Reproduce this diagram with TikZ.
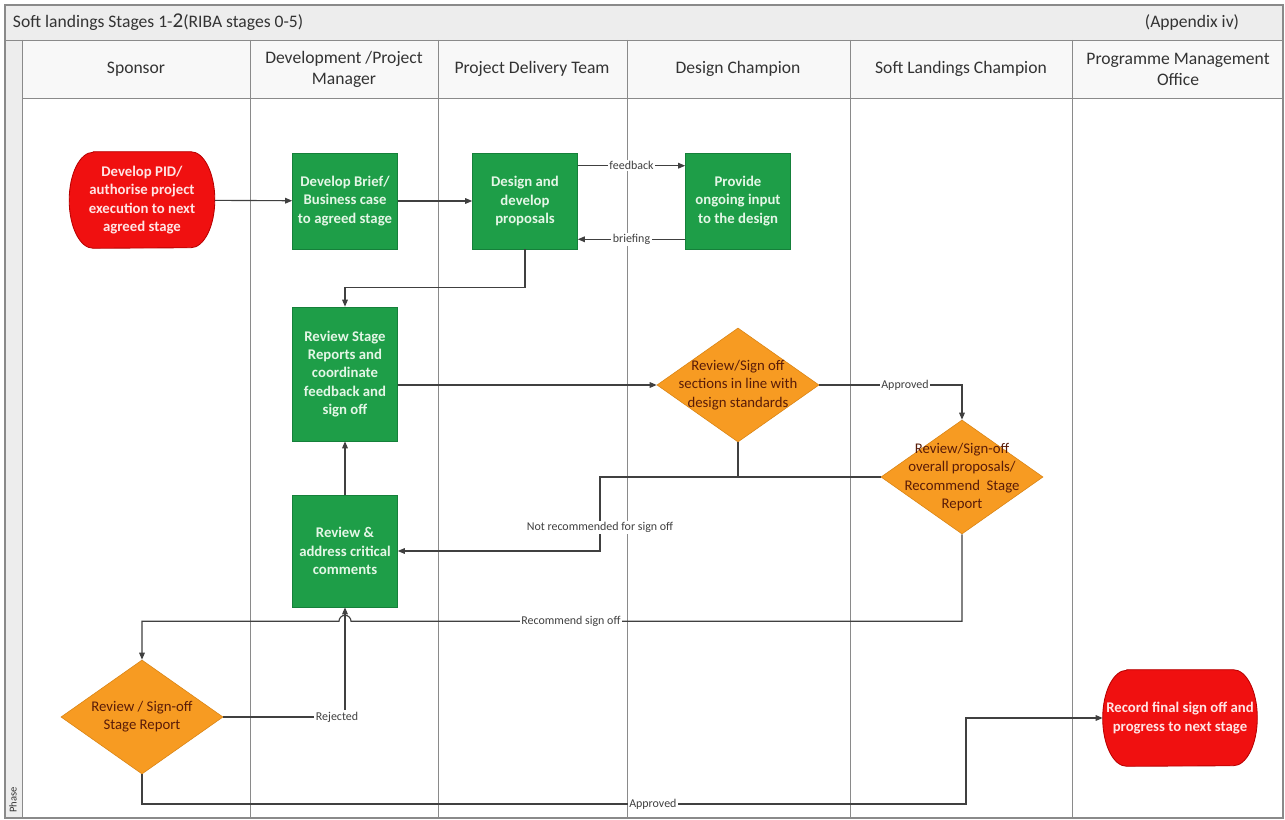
\documentclass[tikz,border=0pt]{standalone}
\usepackage{fontspec}
\setmainfont{Carlito}
\usepackage{tikz}
\usetikzlibrary{shapes,arrows.meta,positioning,calc,backgrounds}
\definecolor{taskgreen}{HTML}{1E9E48}
\definecolor{taskline}{HTML}{15803A}
\definecolor{tasktext}{HTML}{E4F6E6}
\definecolor{termred}{HTML}{F01010}
\definecolor{termline}{HTML}{B80000}
\definecolor{termtext}{HTML}{FFE4E4}
\definecolor{decorange}{HTML}{F79B22}
\definecolor{decline}{HTML}{D98312}
\definecolor{decbrown}{HTML}{5A1C08}
\definecolor{flowgray}{HTML}{404040}
\definecolor{lanegray}{HTML}{8A8A8A}
\definecolor{bandgray}{HTML}{EDEDED}
\definecolor{headgray}{HTML}{F8F8F8}
\definecolor{darkgray}{HTML}{333333}

\begin{document}
\begin{tikzpicture}[
    x=0.025cm, y=-0.025cm,
    laneline/.style={draw=lanegray, line width=0.6pt},
    lanehead/.style={align=center, font=\fontsize{12.5}{15}\selectfont, text=darkgray},
    task/.style={draw=taskline, fill=taskgreen, minimum width=2.625cm, minimum height=2.4cm,
                 align=center, inner sep=1pt, font=\fontsize{10.5}{13}\selectfont\bfseries, text=tasktext},
    terminal/.style={rectangle, minimum height=2.4cm, align=center, inner sep=0pt,
                     font=\fontsize{10.5}{13}\selectfont\bfseries, text=termtext,
                     append after command={\pgfextra{\begin{pgfonlayer}{background}
                       \path[draw=termline, fill=termred, line width=0.6pt]
                         ([xshift=0.6cm]\tikzlastnode.north west) -- ([xshift=-0.6cm]\tikzlastnode.north east)
                         arc[x radius=0.6cm, y radius=1.2cm, start angle=90, end angle=-90]
                         -- ([xshift=0.6cm]\tikzlastnode.south west)
                         arc[x radius=0.6cm, y radius=1.2cm, start angle=270, end angle=90] -- cycle;
                     \end{pgfonlayer}}}},
    decision/.style={diamond, draw=decline, fill=decorange, minimum width=4.05cm,
                     minimum height=2.85cm, inner sep=0pt},
    dectext/.style={align=center, font=\fontsize{10.5}{13}\selectfont, text=decbrown},
    flow/.style={-{Triangle[length=5pt,width=4pt]}, line width=0.8pt, color=flowgray},
    flowlabel/.style={fill=white, inner sep=1pt, font=\fontsize{8.5}{10}\selectfont, text=flowgray}
]
\useasboundingbox (0,0) rectangle (1285,820);

% --- swimlane frame ---
\begin{scope}[on background layer]
\fill[white] (0,0) rectangle (1285,820);
\fill[bandgray] (5,5) rectangle (1283,40);
\fill[headgray] (22,40) rectangle (1283,98);
\fill[bandgray] (5,40) rectangle (22,818);
\foreach \lx in {250,438,627,850,1072}
    \draw[laneline] (\lx,40) -- (\lx,818);
\draw[laneline] (5,40) -- (1283,40);
\draw[laneline] (22,98) -- (1283,98);
\draw[laneline] (22,40) -- (22,818);
\draw[draw=lanegray, line width=0.8pt] (5,5) rectangle (1283,818);
\end{scope}

% --- title and lane headers ---
\node[anchor=west, font=\fontsize{12.5}{15}\selectfont, text=darkgray] (title) at (8,22) {Soft landings Stages 1-{\fontsize{15}{15}\selectfont 2}(RIBA stages 0-5)};
\node[font=\fontsize{12.5}{15}\selectfont, text=darkgray] (appendix) at (1192,22) {(Appendix iv)};
\node[lanehead] (hsponsor)  at (136,69)  {Sponsor};
\node[lanehead] (hmanager)  at (344,69)  {Development /Project\\Manager};
\node[lanehead] (hdelivery) at (532,69)  {Project Delivery Team};
\node[lanehead] (hdesign)   at (738,69)  {Design Champion};
\node[lanehead] (hsoft)     at (961,69)  {Soft Landings Champion};
\node[lanehead] (hpmo)      at (1178,69) {Programme Management\\Office};
\node[rotate=90, font=\fontsize{7.5}{8}\selectfont, text=darkgray] (phase) at (13,800) {Phase};

% --- process steps ---
\node[terminal, minimum width=3.625cm] (startpid) at (142,200) {Develop PID/\\authorise project\\execution to next\\agreed stage};
\node[task] (brief)   at (345,201) {Develop Brief/\\Business case\\to agreed stage};
\node[task] (design)  at (525,201) {Design and\\develop\\proposals};
\node[task] (provide) at (738,201) {Provide\\ongoing input\\to the design};
\node[task, minimum height=3.35cm] (review)  at (345,374) {Review Stage\\Reports and\\coordinate\\feedback and\\sign off};
\node[task, minimum height=2.8cm]  (address) at (345,551) {Review \&\\address critical\\comments};
\node[terminal, minimum width=3.85cm] (record) at (1180,718) {Record final sign off and\\progress to next stage};

% --- decisions ---
\node[decision, label={[dectext]center:Review/Sign off\\sections in line with\\design standards}] (signsec) at (738,385) {};
\node[decision, label={[dectext]center:Review/Sign-off\\overall proposals/\\Recommend\ \ Stage\\Report}] (signall) at (962,477) {};
\node[decision, label={[dectext]center:Review / Sign-off\\Stage Report}] (signstage) at (142,717) {};

\coordinate (notrec) at (600,477);
\coordinate (apprturn) at (966,804);

% --- connections ---
\draw[flow] (startpid) -- (brief);
\draw[flow] (brief) -- (design);
\draw[flow] ($(design.north east)+(0,13)$) -- node[flowlabel] {feedback} ($(provide.north west)+(0,13)$);
\draw[flow] ($(provide.south west)+(0,-10)$) -- node[flowlabel] {briefing} ($(design.south east)+(0,-10)$);
\draw[flow] (design.south) -- ++(0,38) -| (review.north);
\draw[flow] (review.east |- signsec.west) -- (signsec.west);
\draw[flow] (signsec.east) -| node[flowlabel, pos=0.3] {Approved} (signall.north);
\draw[flow, -] (signsec.south) -- (signsec.south |- notrec);
\draw[flow] (signall.west) -- (notrec) |- node[flowlabel, pos=0.34] {Not recommended for sign off} (address.east);
\draw[flow] (address.north) -- (review.south);
\draw[flow] (signall.south) |- node[flowlabel, pos=0.82] {Recommend sign off} ($(address.south)+(6,14)$)
    arc[start angle=0, end angle=180, radius=0.15cm] -| (signstage.north);
\draw[flow] (signstage.east) -| node[flowlabel, pos=0.5, xshift=-0.2cm] {Rejected} (address.south);
\draw[flow] (signstage.south) |- node[flowlabel, pos=0.81] {Approved} (apprturn) |- (record.west);

\end{tikzpicture}
\end{document}
